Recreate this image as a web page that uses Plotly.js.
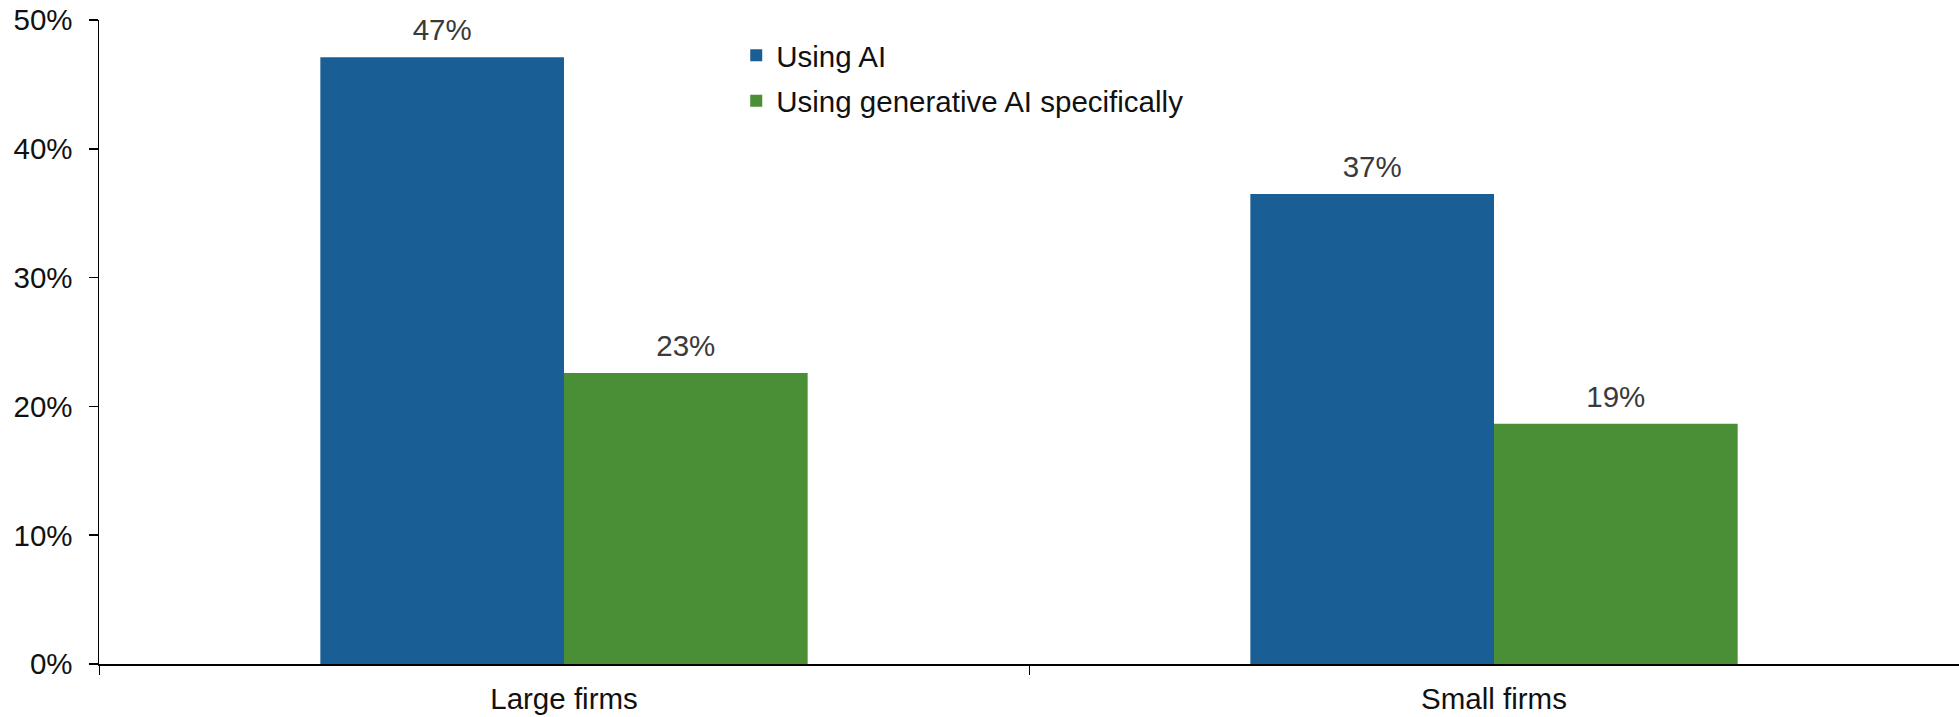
<!DOCTYPE html>
<html>
<head>
<meta charset="utf-8">
<script src="https://cdn.plot.ly/plotly-3.0.1.min.js"></script>
<style>html,body{margin:0;padding:0;background:#fff}#chart{width:1959px;height:717px}</style>
</head>
<body>
<div id="chart"></div>
<script>
var categories = ['Large firms', 'Small firms'];
var usingAI = [47.1, 36.5];
var usingGenAI = [22.6, 18.65];
var usingAILabels = ['47%', '37%'];
var usingGenAILabels = ['23%', '19%'];
var seriesNames = ['Using AI', 'Using generative AI specifically'];
var yRange = [0, 50];
var yTickStep = 10;

var FONT = 'Liberation Sans, Arial, sans-serif';
var FS = 29.5;
var BLUE = '#1A5E96';
var GREEN = '#4A8E35';
var GAP = 0.476;

var traces = [
  {type: 'bar', name: seriesNames[0], legendgroup: 'g1', x: categories, y: usingAI, marker: {color: BLUE}, hoverinfo: 'skip'},
  {type: 'bar', name: seriesNames[1], legendgroup: 'g2', x: categories, y: usingGenAI, marker: {color: GREEN}, hoverinfo: 'skip'},
  {type: 'scatter', mode: 'markers+text', x: categories, y: usingAI, text: usingAILabels,
   textposition: 'top center', textfont: {family: FONT, size: FS, color: '#3a3a3a'},
   marker: {size: 14, opacity: 0}, showlegend: false, hoverinfo: 'skip', cliponaxis: false},
  {type: 'scatter', mode: 'markers+text', x: categories, y: usingGenAI, text: usingGenAILabels,
   textposition: 'top center', textfont: {family: FONT, size: FS, color: '#3a3a3a'},
   marker: {size: 14, opacity: 0}, showlegend: false, hoverinfo: 'skip', cliponaxis: false}
];

var layout = {
  width: 1959, height: 717,
  margin: {l: 99, r: 0, t: 20, b: 53},
  paper_bgcolor: '#fff', plot_bgcolor: '#fff',
  font: {family: FONT, size: FS, color: '#111'},
  barmode: 'group', bargap: GAP, bargroupgap: 0,
  scattermode: 'group', scattergap: GAP,
  showlegend: true,
  legend: {x: 0.3426, xanchor: 'left', y: 0.985, yanchor: 'top', traceorder: 'grouped',
           font: {family: FONT, size: FS, color: '#111'}, bgcolor: 'rgba(0,0,0,0)',
           tracegroupgap: 4},
  xaxis: {type: 'category', showgrid: false, zeroline: false, showline: true,
          linecolor: '#000', linewidth: 2, ticks: 'outside', tickson: 'boundaries',
          ticklen: 9, tickwidth: 1, tickcolor: '#000', ticklabelstandoff: 8,
          tickfont: {family: FONT, size: FS, color: '#111'}},
  yaxis: {range: yRange, tickmode: 'linear', tick0: 0, dtick: yTickStep, ticksuffix: '%',
          showticksuffix: 'all', showgrid: false, zeroline: false,
          showline: true, linecolor: '#000', linewidth: 1.5, ticks: 'outside', ticklen: 9,
          tickwidth: 1.5, tickcolor: '#000', ticklabelstandoff: 10,
          tickfont: {family: FONT, size: FS, color: '#111'}}
};

Plotly.newPlot('chart', traces, layout, {staticPlot: true, displayModeBar: false});
</script>
</body>
</html>
